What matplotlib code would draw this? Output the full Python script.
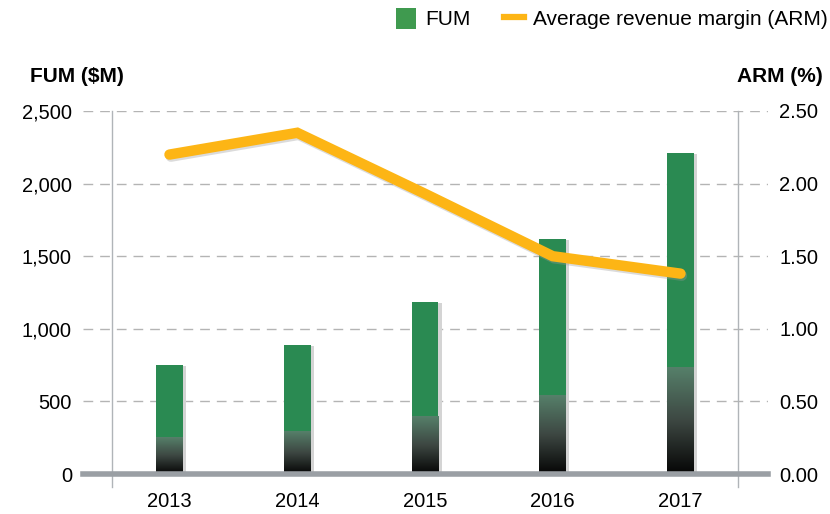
import numpy as np
import matplotlib
matplotlib.use("Agg")
import matplotlib.pyplot as plt
from matplotlib.patches import Patch
from matplotlib.lines import Line2D
from matplotlib.colors import LinearSegmentedColormap
import matplotlib.patheffects as pe

plt.rcParams['font.family'] = ['Liberation Sans', 'DejaVu Sans']

years = ["2013", "2014", "2015", "2016", "2017"]
fum = [750, 888, 1185, 1618, 2210]          # $M
arm = [2.20, 2.35, 1.93, 1.50, 1.38]        # %
fum_ticks = [0, 500, 1000, 1500, 2000, 2500]
arm_ticks = [0.0, 0.5, 1.0, 1.5, 2.0, 2.5]

green = "#2a8a52"
orange = "#fdb515"
grid_col = "#b4b4b4"

fig = plt.figure(figsize=(8.3, 5.14), dpi=100)
ax = fig.add_axes([83/830, 40/514, (768-83)/830, (474-111)/514])
ax2 = ax.twinx()

x = np.arange(len(years))
w = 0.21
ax.set_xlim(-0.677, 4.685)
ax.set_ylim(0, 2500)
ax2.set_ylim(0, 2.5)

# dashed grid
for t in fum_ticks[1:]:
    ax.axhline(t, color=grid_col, lw=1, ls=(0, (7, 5)), zorder=0)

# vertical frame lines
for xv in [-0.45, 4.45]:
    ax.plot([xv, xv], [-90, 2500], color="#b0b4b8", lw=1, zorder=1, clip_on=False)

# bars: solid green with dark gradient at bottom third
cmap = LinearSegmentedColormap.from_list("fade", ["#050505", "#3d4742", "#56806a"])
grad = np.linspace(0, 1, 256).reshape(-1, 1)
for xi, v in zip(x, fum):
    ax.bar(xi + 0.025, v - 8, width=w, bottom=0, color="#d4d4d4", zorder=2)
    ax.bar(xi, v, width=w, color=green, zorder=3)
    ax.imshow(grad, extent=[xi - w/2, xi + w/2, 0, v/3], origin="lower",
              cmap=cmap, aspect="auto", zorder=4)
ax.set_xlim(-0.677, 4.685)
ax.set_ylim(0, 2500)

# baseline
ax.axhline(0, color="#9a9fa4", lw=4, zorder=5, clip_on=False)

# line on secondary axis
ax2.plot(x, arm, color=orange, lw=7.5, solid_capstyle="round", solid_joinstyle="miter",
         path_effects=[pe.SimpleLineShadow(offset=(1, -1.5), shadow_color="#999999", alpha=0.35),
                       pe.Normal()], zorder=6)

for a in (ax, ax2):
    for s in a.spines.values():
        s.set_visible(False)

ax.set_xticks(x)
ax.set_xticklabels(years)
ax.set_yticks(fum_ticks)
ax.set_yticklabels([f"{t:,}" for t in fum_ticks])
ax2.set_yticks(arm_ticks)
ax2.set_yticklabels([f"{t:.2f}" for t in arm_ticks])
ax.tick_params(axis="x", length=0, pad=13, labelsize=14.5)
ax.tick_params(axis="y", length=0, pad=8, labelsize=14.5)
ax2.tick_params(axis="y", length=0, pad=8, labelsize=14.5)

fig.text(30/830, 1 - 76/514, "FUM ($M)", fontsize=15, fontweight="bold", va="center", ha="left")
fig.text(823/830, 1 - 76/514, "ARM (%)", fontsize=15, fontweight="bold", va="center", ha="right")

handles = [Patch(facecolor="#3f9a4f", edgecolor="none"),
           Line2D([0], [0], color=orange, lw=4.5)]
fig.legend(handles, ["FUM", "Average revenue margin (ARM)"], ncol=2, frameon=False,
           loc="upper right", bbox_to_anchor=(828/830, 1 - 8/514), fontsize=15,
           borderpad=0, borderaxespad=0,
           handlelength=0.96, handleheight=1.15, handletextpad=0.45, columnspacing=1.6)

fig.savefig("out.png", dpi=100)
